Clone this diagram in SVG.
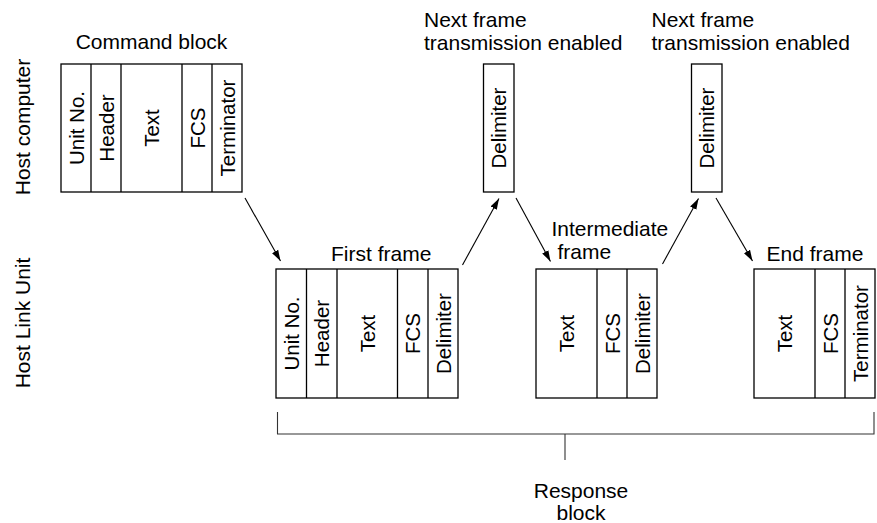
<svg xmlns="http://www.w3.org/2000/svg" width="877" height="523" viewBox="0 0 877 523">
<style>
text{font-family:"Liberation Sans",Arial,sans-serif;fill:#000}
.lbl{font-size:21px}
.cell{font-size:20.5px;text-anchor:middle}
.box{fill:#fff;stroke:#000;stroke-width:1.3}
.div{stroke:#000;stroke-width:1.3}
.conn{stroke:#000;stroke-width:1.1;fill:none}
.br{stroke:#333;stroke-width:1.1;fill:none}
</style>
<defs>
<marker id="ah" markerUnits="userSpaceOnUse" markerWidth="11" markerHeight="8" refX="11" refY="4" orient="auto">
<path d="M0,0.5 L11,4 L0,7.5 z" fill="#000"/>
</marker>
</defs>

<g id="host-computer-label">
<text class="lbl" text-anchor="middle" transform="translate(30,127) rotate(-90)">Host computer</text>
</g>
<g id="host-link-unit-label">
<text class="lbl" text-anchor="middle" transform="translate(30,323) rotate(-90)">Host Link Unit</text>
</g>

<g id="command-block">
<text class="lbl" x="151.5" y="49" text-anchor="middle">Command block</text>
<rect class="box" x="61" y="64" width="181" height="128"/>
<path class="div" d="M91,64V192M121,64V192M182,64V192M212,64V192"/>
<text class="cell" transform="translate(83.5,128) rotate(-90)">Unit No.</text>
<text class="cell" transform="translate(113.5,128) rotate(-90)">Header</text>
<text class="cell" transform="translate(159,128) rotate(-90)">Text</text>
<text class="cell" transform="translate(204.5,128) rotate(-90)">FCS</text>
<text class="cell" transform="translate(234.5,128) rotate(-90)">Terminator</text>
</g>

<g id="delimiter-1">
<text class="lbl" x="424" y="26.5">Next frame</text>
<text class="lbl" x="424" y="50">transmission enabled</text>
<rect class="box" x="483.5" y="64" width="30.5" height="128"/>
<text class="cell" transform="translate(506.3,128) rotate(-90)">Delimiter</text>
</g>

<g id="delimiter-2">
<text class="lbl" x="651.5" y="26.5">Next frame</text>
<text class="lbl" x="651.5" y="50">transmission enabled</text>
<rect class="box" x="691.5" y="64" width="30.5" height="128"/>
<text class="cell" transform="translate(714.3,128) rotate(-90)">Delimiter</text>
</g>

<g id="first-frame">
<text class="lbl" x="331" y="261">First frame</text>
<rect class="box" x="276" y="269" width="182" height="129"/>
<path class="div" d="M306.5,269V398M337,269V398M397.5,269V398M428,269V398"/>
<text class="cell" transform="translate(298.7,333.5) rotate(-90)">Unit No.</text>
<text class="cell" transform="translate(329.2,333.5) rotate(-90)">Header</text>
<text class="cell" transform="translate(374.7,333.5) rotate(-90)">Text</text>
<text class="cell" transform="translate(420.2,333.5) rotate(-90)">FCS</text>
<text class="cell" transform="translate(450.7,333.5) rotate(-90)">Delimiter</text>
</g>

<g id="intermediate-frame">
<text class="lbl" x="551.5" y="236">Intermediate</text>
<text class="lbl" x="557.5" y="258.5">frame</text>
<rect class="box" x="536" y="269" width="121" height="129"/>
<path class="div" d="M597,269V398M627,269V398"/>
<text class="cell" transform="translate(574,333.5) rotate(-90)">Text</text>
<text class="cell" transform="translate(619.5,333.5) rotate(-90)">FCS</text>
<text class="cell" transform="translate(649.5,333.5) rotate(-90)">Delimiter</text>
</g>

<g id="end-frame">
<text class="lbl" x="766.5" y="261">End frame</text>
<rect class="box" x="754" y="269" width="121" height="129"/>
<path class="div" d="M815,269V398M845,269V398"/>
<text class="cell" transform="translate(792,333.5) rotate(-90)">Text</text>
<text class="cell" transform="translate(837.5,333.5) rotate(-90)">FCS</text>
<text class="cell" transform="translate(867.5,333.5) rotate(-90)">Terminator</text>
</g>

<g id="response-block">
<path class="br" d="M277.5,412V434H874V412M565,434V460"/>
<text class="lbl" x="581" y="497.5" text-anchor="middle">Response</text>
<text class="lbl" x="581" y="519.5" text-anchor="middle">block</text>
</g>

<g id="connectors">
<line class="conn" x1="245" y1="198" x2="280.5" y2="261" marker-end="url(#ah)"/>
<line class="conn" x1="462.5" y1="265" x2="499" y2="198.5" marker-end="url(#ah)"/>
<line class="conn" x1="516" y1="198" x2="550.5" y2="261.5" marker-end="url(#ah)"/>
<line class="conn" x1="662.5" y1="264" x2="698.5" y2="198.5" marker-end="url(#ah)"/>
<line class="conn" x1="716" y1="198" x2="752.5" y2="261" marker-end="url(#ah)"/>
</g>
</svg>
